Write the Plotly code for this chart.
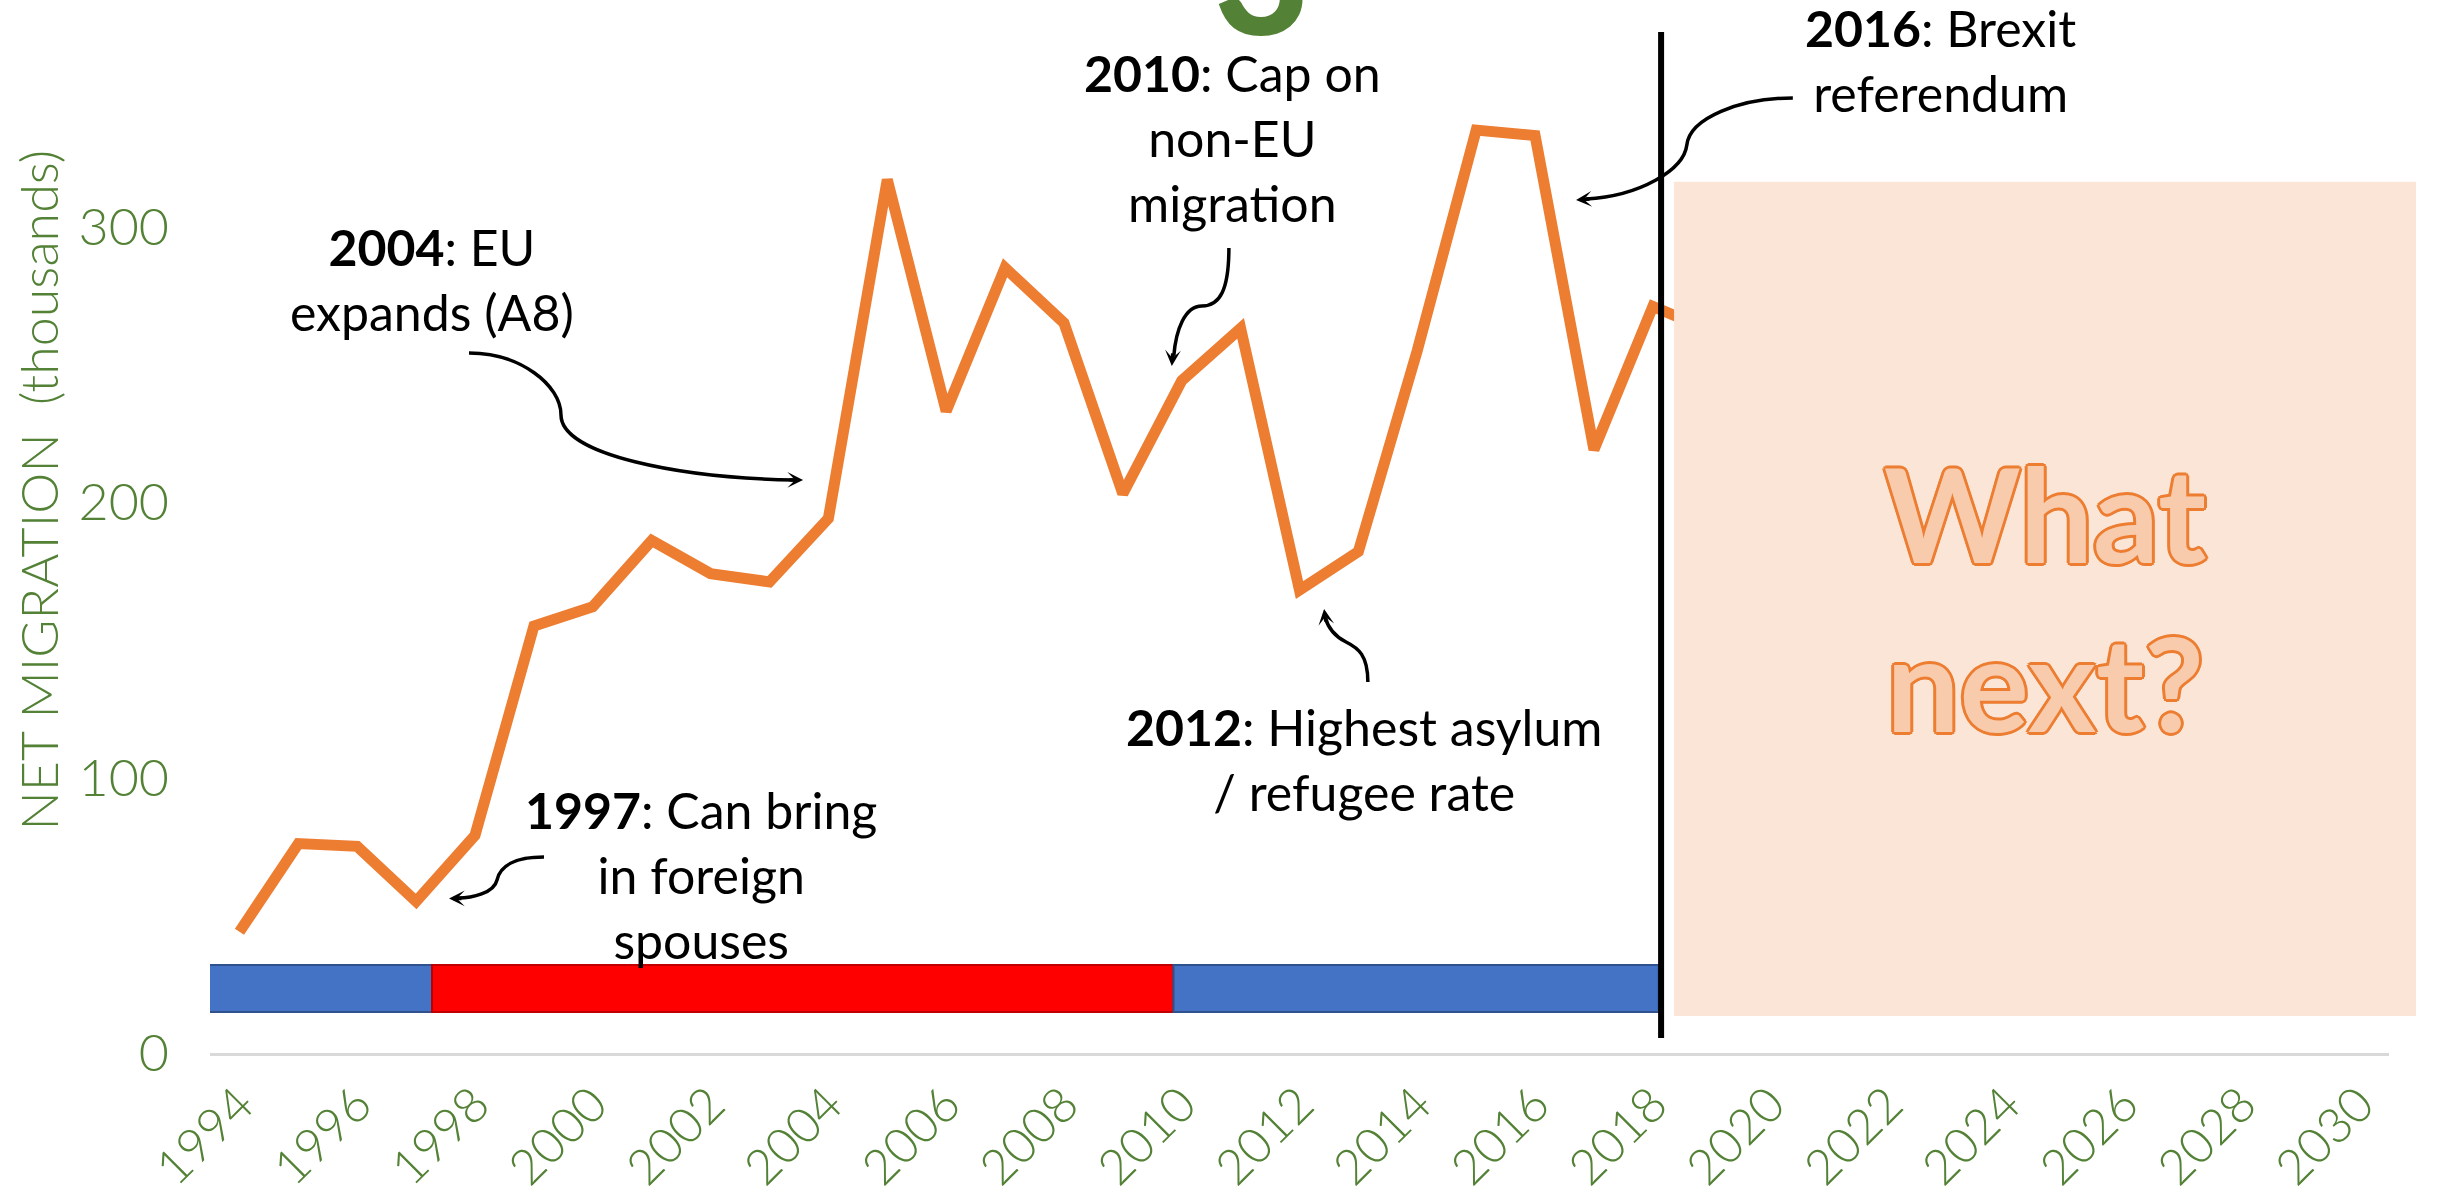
import plotly.graph_objects as go

# UK net migration, thousands per year
years = list(range(1994, 2020))
net_migration = [44, 76, 75, 55, 79, 155, 162, 186, 174, 171, 194, 317, 233,
                 285, 265, 203, 244, 263, 168, 182, 255, 335, 333, 219, 271, 262]

tick_years = list(range(1994, 2031, 2))
y_ticks = [0, 100, 200, 300]

# governing party bands along the bottom of the chart
govt_start = [1993.43, 1997.27, 2009.86]
govt_end = [1997.27, 2009.86, 2018.10]
govt_party = ["Conservative", "Labour", "Conservative"]

present_year = 2018.14          # divider between history and outlook
outlook_end_paper = 1.0124      # shaded outlook panel runs slightly past the axis

GREEN = "#538135"
ORANGE = "#ED7D31"
party_fill = {"Conservative": "#4472C4", "Labour": "#FF0000"}
party_edge = {"Conservative": "#2F528F", "Labour": "#C00000"}

TEXT_FONT = "Lato"
AXIS_FONT = "Lato"

fig = go.Figure()

fig.add_trace(go.Scatter(
    x=years, y=net_migration, mode="lines",
    line=dict(color=ORANGE, width=11),
    hoverinfo="skip",
))

shapes = []

# party bands
for s, e, p in zip(govt_start, govt_end, govt_party):
    shapes.append(dict(type="rect", xref="x", yref="y", x0=s, x1=e, y0=14.9, y1=31.9,
                       fillcolor=party_fill[p], line=dict(color=party_edge[p], width=2),
                       layer="above"))

# shaded outlook panel
x0_paper = (present_year + 0.22 - 1993.5) / 37.0
shapes.append(dict(type="rect", xref="paper", yref="y", x0=x0_paper, x1=outlook_end_paper,
                   y0=13.4, y1=316.2, fillcolor="#FBE5D6", line=dict(width=0),
                   layer="above"))

# present-day divider
shapes.append(dict(type="line", xref="x", yref="y", x0=present_year, x1=present_year,
                   y0=5.4, y1=370.6, line=dict(color="black", width=6), layer="above"))


def curve(points):
    """Build an SVG path: a move-to followed by cubic segments."""
    (x0, y0), rest = points[0], points[1:]
    d = f"M{x0},{y0}"
    for i in range(0, len(rest), 3):
        (a, b), (c, dd), (e, f) = rest[i:i + 3]
        d += f" C{a},{b} {c},{dd} {e},{f}"
    return d


# callout connectors (year, thousands)
callouts = [
    # 2004 enlargement
    dict(path=[(1997.898, 254.08), (1998.764, 254.08), (1999.46, 242.47), (1999.46, 231.58),
               (1999.46, 217.06), (2001.48, 208.71), (2003.433, 207.99)],
         tip=(2003.57, 208.0), tail=(-15, 0)),
    # 2010 cap
    dict(path=[(2010.801, 292.2), (2010.801, 276.95), (2010.648, 271.14), (2010.342, 271.14),
               (2010.053, 271.14), (2009.9, 262.43), (2009.866, 253.0)],
         tip=(2009.832, 249.4), tail=(1, -14)),
    # 2016 referendum
    dict(path=[(2020.377, 346.64), (2019.477, 346.64), (2018.628, 339.38), (2018.577, 329.58),
               (2018.526, 320.51), (2017.78, 311.07), (2016.866, 309.98)],
         tip=(2016.696, 309.62), tail=(15, -1)),
    # 2012 asylum
    dict(path=[(2013.161, 134.66), (2013.161, 144.46), (2012.995, 147.0), (2012.791, 149.18),
               (2012.587, 151.36), (2012.485, 154.26), (2012.434, 158.26)],
         tip=(2012.417, 161.16), tail=(2, 14)),
    # 1997 spouses
    dict(path=[(1999.171, 71.14), (1998.679, 71.14), (1998.424, 67.88), (1998.373, 62.79),
               (1998.322, 58.08), (1997.949, 56.26), (1997.711, 56.26)],
         tip=(1997.559, 56.08), tail=(14, 0)),
]

annotations = []
for c in callouts:
    shapes.append(dict(type="path", xref="x", yref="y", path=curve(c["path"]),
                       line=dict(color="black", width=3.5), layer="above"))
    annotations.append(dict(x=c["tip"][0], y=c["tip"][1], xref="x", yref="y", text="",
                            showarrow=True, arrowhead=3, arrowsize=0.75, arrowwidth=3.5,
                            arrowcolor="black", ax=c["tail"][0], ay=c["tail"][1]))

# event notes
events = [
    (2022.889, 360.4, "<b>2016</b>: Brexit<br>referendum"),
    (2010.869, 332.1, "<b>2010</b>: Cap on<br>non-EU<br>migration"),
    (1997.270, 280.9, "<b>2004</b>: EU<br>expands (A8)"),
    (2013.093, 106.7, "<b>2012</b>: Highest asylum<br>/ refugee rate"),
    (2001.837, 64.6, "<b>1997</b>: Can bring<br>in foreign<br>spouses"),
]
for ex, ey, txt in events:
    annotations.append(dict(x=ex, y=ey, xref="x", yref="y", text=txt, showarrow=False,
                            xanchor="center", yanchor="middle", align="center",
                            font=dict(family=TEXT_FONT, size=50, color="black")))

# outlook caption with an outlined look
o = ORANGE
outline = ", ".join(f"{dx}px {dy}px 0 {o}" for dx, dy in
                    [(3, 0), (-3, 0), (0, 3), (0, -3), (2, 2), (-2, -2), (2, -2), (-2, 2)])
annotations.append(dict(x=2024.655, y=165.5, xref="x", yref="y", text="What<br>next?",
                        showarrow=False, xanchor="center", yanchor="middle", align="center",
                        font=dict(family=TEXT_FONT, size=130, color="#F8CBAD", weight=700,
                                  shadow=outline)))

# section number peeking in from above
annotations.append(dict(x=2011.36, y=1.028, xref="x", yref="paper", text="3",
                        showarrow=False, xanchor="center", yanchor="middle",
                        font=dict(family=TEXT_FONT, size=165, color=GREEN, weight=900)))

# y-axis title
annotations.append(dict(x=-0.079, y=0.535, xref="paper", yref="paper",
                        text="NET MIGRATION\u00a0 (thousands)", textangle=-90, showarrow=False,
                        xanchor="center", yanchor="middle",
                        font=dict(family=AXIS_FONT, size=52, color=GREEN, weight=300)))

fig.update_layout(
    width=2440, height=1204,
    margin=dict(l=210, r=51, t=0, b=151),
    paper_bgcolor="white", plot_bgcolor="white",
    showlegend=False,
    shapes=shapes,
    annotations=annotations,
    xaxis=dict(range=[1993.5, 2030.5], tickvals=tick_years,
               ticktext=[str(t) for t in tick_years], tickangle=-45,
               tickfont=dict(family=AXIS_FONT, size=49, color=GREEN, weight=300),
               showgrid=False, zeroline=False, showline=True, linecolor="#D9D9D9",
               linewidth=3, ticks="", ticklabelstandoff=0, automargin=False),
    yaxis=dict(range=[0, 382.2], tickvals=y_ticks,
               tickfont=dict(family=AXIS_FONT, size=52, color=GREEN, weight=300),
               showgrid=False, zeroline=False, showline=False, ticks="",
               ticklabelstandoff=40, automargin=False),
)

fig.write_html("out.html")
